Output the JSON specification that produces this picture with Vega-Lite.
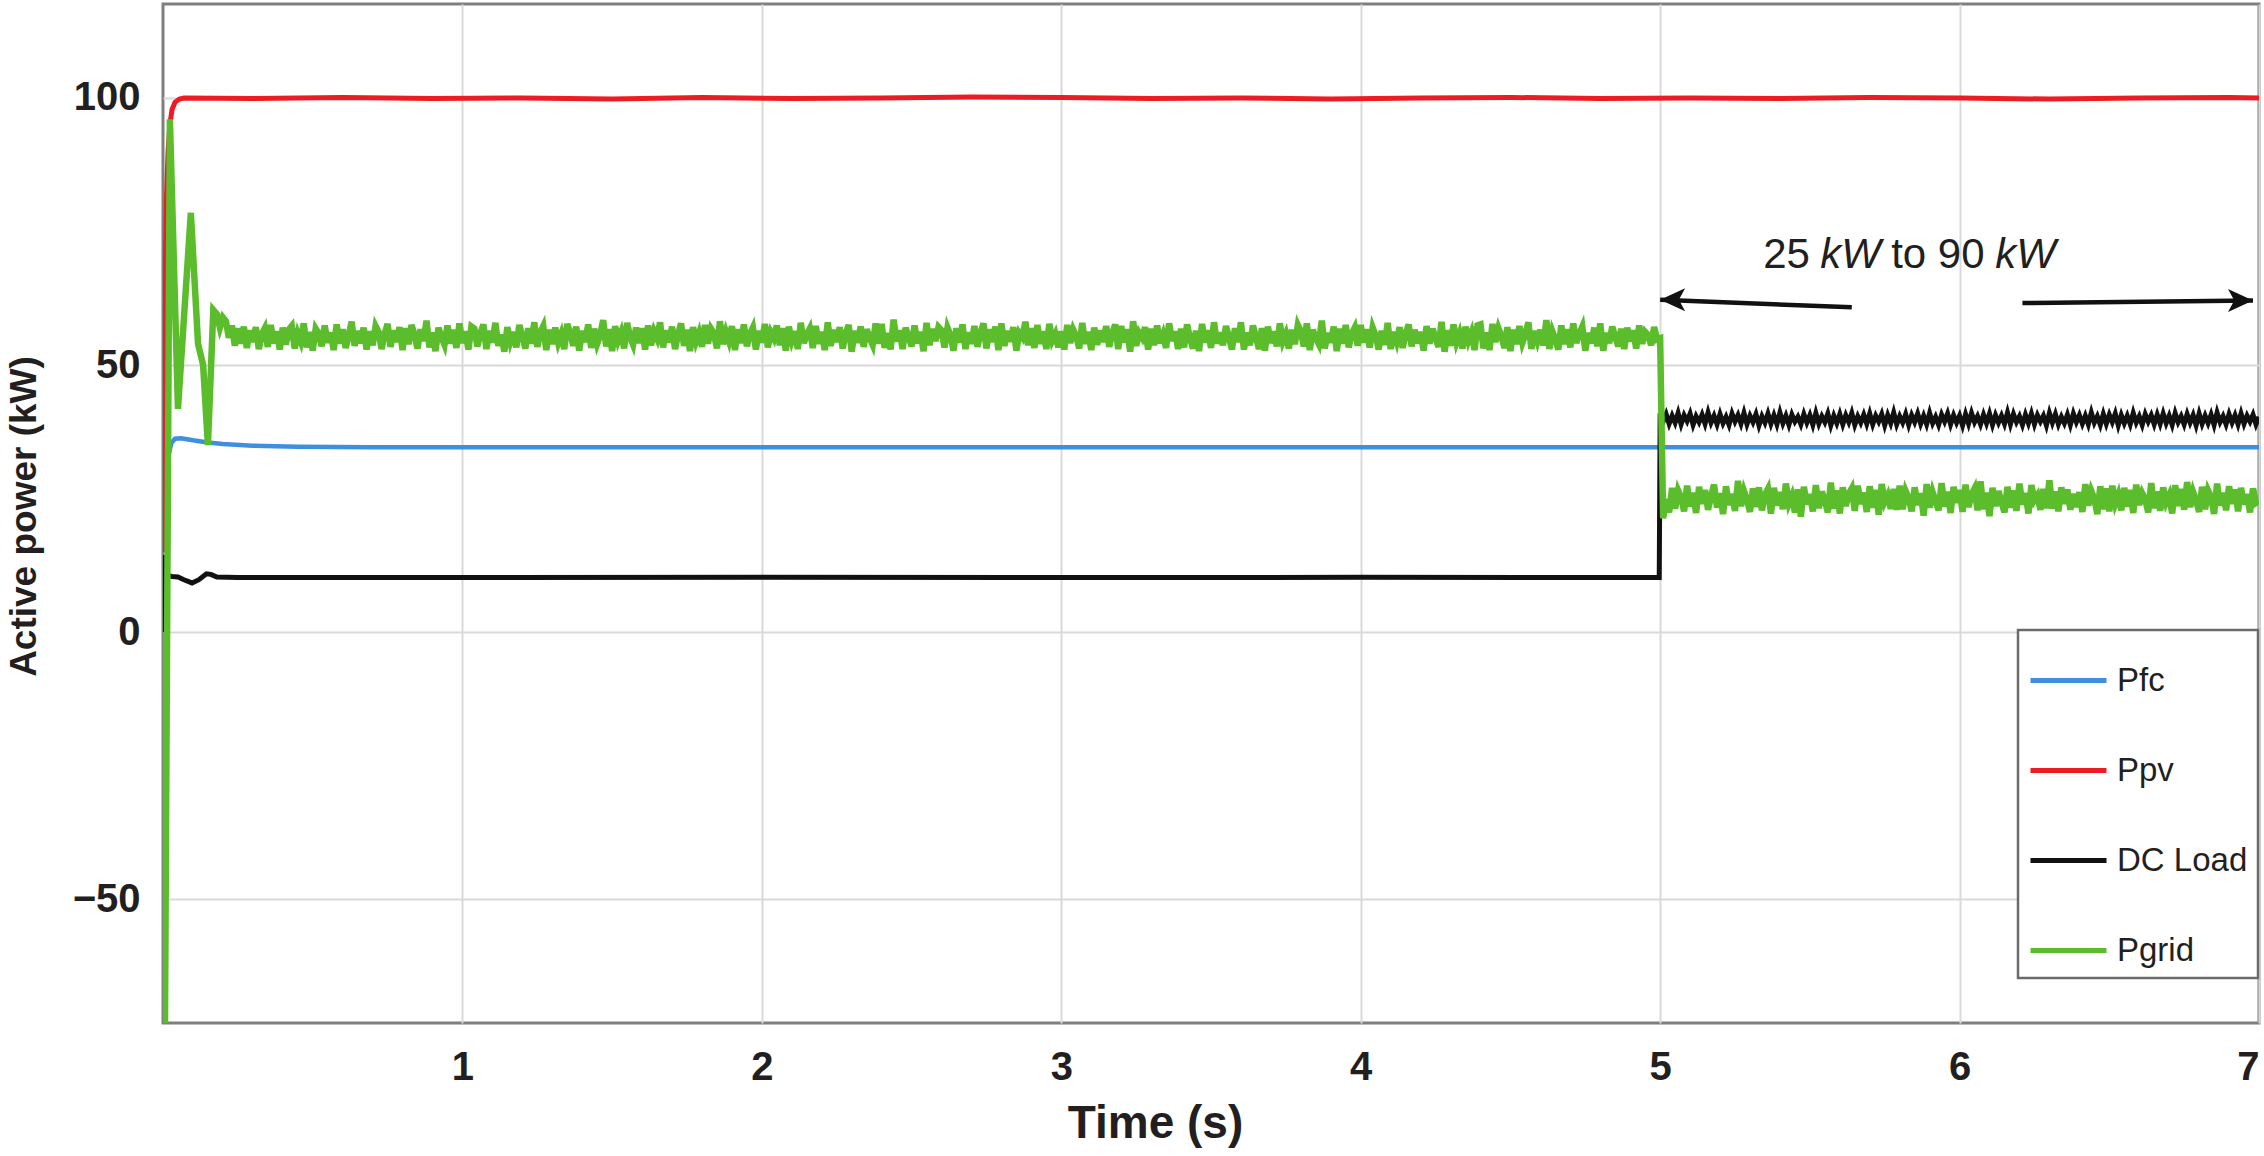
{
"$schema":"https://vega.github.io/schema/vega-lite/v6.json",
"width":2096,"height":1019,
"autosize":{"type":"none"},
"padding":{"left":163,"top":4,"right":5,"bottom":133},
"background":"white",
"config":{"view":{"stroke":"#7f7f7f","strokeWidth":3},"font":"Liberation Sans","legend":{"strokeColor":"#6b6b6b","strokeWidth":2.5}},
"datasets":{
"pfc":[{"t":0.02,"v":33.5},{"t":0.028,"v":35.4},{"t":0.04,"v":36.2},{"t":0.06,"v":36.3},{"t":0.08,"v":36.1},{"t":0.1,"v":35.9},{"t":0.15,"v":35.5},{"t":0.2,"v":35.2},{"t":0.3,"v":34.9},{"t":0.45,"v":34.7},{"t":0.7,"v":34.6},{"t":7.0,"v":34.6}],
"ppv":[{"t":0,"v":15},{"t":0.004,"v":45},{"t":0.008,"v":68},{"t":0.012,"v":82},{"t":0.017,"v":90},{"t":0.023,"v":95},{"t":0.03,"v":97.8},{"t":0.04,"v":99.2},{"t":0.055,"v":99.8},{"t":0.07,"v":100},{"t":0.3,"v":99.9},{"t":0.6,"v":100.1},{"t":0.9,"v":99.9},{"t":1.2,"v":100},{"t":1.5,"v":99.8},{"t":1.8,"v":100.1},{"t":2.1,"v":99.9},{"t":2.4,"v":100},{"t":2.7,"v":100.2},{"t":3.0,"v":100.1},{"t":3.3,"v":99.9},{"t":3.6,"v":100},{"t":3.9,"v":99.8},{"t":4.2,"v":100},{"t":4.5,"v":100.1},{"t":4.8,"v":99.9},{"t":5.1,"v":100},{"t":5.4,"v":99.9},{"t":5.7,"v":100.1},{"t":6.0,"v":100},{"t":6.3,"v":99.8},{"t":6.6,"v":100},{"t":6.9,"v":100.1},{"t":7.0,"v":100}],
"dc":[{"t":0,"v":0},{"t":0.003,"v":14.4},{"t":0.008,"v":11.5},{"t":0.015,"v":10.6},{"t":0.03,"v":10.4},{"t":0.05,"v":10.3},{"t":0.07,"v":9.8},{"t":0.097,"v":9.2},{"t":0.12,"v":9.8},{"t":0.145,"v":10.9},{"t":0.16,"v":10.8},{"t":0.18,"v":10.3},{"t":0.25,"v":10.2},{"t":1,"v":10.2},{"t":2,"v":10.25},{"t":3,"v":10.2},{"t":4,"v":10.25},{"t":4.997,"v":10.2},{"t":5.0,"v":40.9},
{"t":5.01,"v":39.4},{"t":5.02,"v":40.8},{"t":5.03,"v":39.0},{"t":5.04,"v":40.5},{"t":5.05,"v":39.2},{"t":5.06,"v":41.0},{"t":5.07,"v":38.9},{"t":5.08,"v":40.6},{"t":5.09,"v":39.5},
{"t":5.10,"v":40.9},{"t":5.11,"v":38.8},{"t":5.12,"v":40.4},{"t":5.13,"v":39.3},{"t":5.14,"v":40.7},{"t":5.15,"v":39.0},{"t":5.16,"v":41.1},{"t":5.17,"v":39.2},{"t":5.18,"v":40.5},{"t":5.19,"v":38.9},
{"t":5.20,"v":40.8},{"t":5.21,"v":39.1},{"t":5.22,"v":40.3},{"t":5.23,"v":38.8},{"t":5.24,"v":40.9},{"t":5.25,"v":39.4},{"t":5.26,"v":40.6},{"t":5.27,"v":39.0},{"t":5.28,"v":41.0},{"t":5.29,"v":38.9},
{"t":5.30,"v":40.5},{"t":5.31,"v":39.3},{"t":5.32,"v":40.8},{"t":5.33,"v":38.7},{"t":5.34,"v":40.4},{"t":5.35,"v":39.2},{"t":5.36,"v":40.9},{"t":5.37,"v":39.0},{"t":5.38,"v":40.6},{"t":5.39,"v":38.9},
{"t":5.40,"v":41.1},{"t":5.41,"v":39.1},{"t":5.42,"v":40.5},{"t":5.43,"v":38.8},{"t":5.44,"v":40.7},{"t":5.45,"v":39.4},{"t":5.46,"v":40.3},{"t":5.47,"v":38.9},{"t":5.48,"v":40.8},{"t":5.49,"v":39.2},
{"t":5.50,"v":40.6},{"t":5.51,"v":38.8},{"t":5.52,"v":41.0},{"t":5.53,"v":39.0},{"t":5.54,"v":40.4},{"t":5.55,"v":39.3},{"t":5.56,"v":40.9},{"t":5.57,"v":38.7},{"t":5.58,"v":40.5},{"t":5.59,"v":39.1},
{"t":5.60,"v":40.8},{"t":5.61,"v":38.9},{"t":5.62,"v":40.6},{"t":5.63,"v":39.3},{"t":5.64,"v":41.0},{"t":5.65,"v":38.8},{"t":5.66,"v":40.4},{"t":5.67,"v":39.2},{"t":5.68,"v":40.7},{"t":5.69,"v":39.0},
{"t":5.70,"v":40.9},{"t":5.71,"v":38.9},{"t":5.72,"v":40.5},{"t":5.73,"v":39.4},{"t":5.74,"v":40.8},{"t":5.75,"v":38.7},{"t":5.76,"v":40.6},{"t":5.77,"v":39.1},{"t":5.78,"v":41.1},{"t":5.79,"v":38.9},
{"t":5.80,"v":40.4},{"t":5.81,"v":39.2},{"t":5.82,"v":40.8},{"t":5.83,"v":38.8},{"t":5.84,"v":40.6},{"t":5.85,"v":39.3},{"t":5.86,"v":40.9},{"t":5.87,"v":39.0},{"t":5.88,"v":40.5},{"t":5.89,"v":38.9},
{"t":5.90,"v":41.0},{"t":5.91,"v":39.1},{"t":5.92,"v":40.3},{"t":5.93,"v":38.8},{"t":5.94,"v":40.7},{"t":5.95,"v":39.4},{"t":5.96,"v":40.9},{"t":5.97,"v":38.9},{"t":5.98,"v":40.6},{"t":5.99,"v":39.2},
{"t":6.00,"v":40.5},{"t":6.01,"v":38.7},{"t":6.02,"v":40.8},{"t":6.03,"v":39.0},{"t":6.04,"v":41.0},{"t":6.05,"v":39.3},{"t":6.06,"v":40.4},{"t":6.07,"v":38.9},{"t":6.08,"v":40.7},{"t":6.09,"v":39.1},
{"t":6.10,"v":40.9},{"t":6.11,"v":38.8},{"t":6.12,"v":40.6},{"t":6.13,"v":39.2},{"t":6.14,"v":40.5},{"t":6.15,"v":39.0},{"t":6.16,"v":41.1},{"t":6.17,"v":38.9},{"t":6.18,"v":40.8},{"t":6.19,"v":39.3},
{"t":6.20,"v":40.4},{"t":6.21,"v":38.8},{"t":6.22,"v":40.7},{"t":6.23,"v":39.1},{"t":6.24,"v":40.9},{"t":6.25,"v":38.9},{"t":6.26,"v":40.6},{"t":6.27,"v":39.4},{"t":6.28,"v":40.5},{"t":6.29,"v":38.7},
{"t":6.30,"v":41.0},{"t":6.31,"v":39.2},{"t":6.32,"v":40.8},{"t":6.33,"v":38.9},{"t":6.34,"v":40.3},{"t":6.35,"v":39.1},{"t":6.36,"v":40.7},{"t":6.37,"v":38.8},{"t":6.38,"v":40.9},{"t":6.39,"v":39.3},
{"t":6.40,"v":40.6},{"t":6.41,"v":39.0},{"t":6.42,"v":40.5},{"t":6.43,"v":38.9},{"t":6.44,"v":41.1},{"t":6.45,"v":39.2},{"t":6.46,"v":40.4},{"t":6.47,"v":38.8},{"t":6.48,"v":40.8},{"t":6.49,"v":39.0},
{"t":6.50,"v":40.7},{"t":6.51,"v":39.3},{"t":6.52,"v":40.9},{"t":6.53,"v":38.7},{"t":6.54,"v":40.6},{"t":6.55,"v":39.1},{"t":6.56,"v":40.5},{"t":6.57,"v":38.9},{"t":6.58,"v":41.0},{"t":6.59,"v":39.2},
{"t":6.60,"v":40.4},{"t":6.61,"v":38.8},{"t":6.62,"v":40.8},{"t":6.63,"v":39.4},{"t":6.64,"v":40.6},{"t":6.65,"v":38.9},{"t":6.66,"v":40.7},{"t":6.67,"v":39.0},{"t":6.68,"v":40.9},{"t":6.69,"v":39.1},
{"t":6.70,"v":40.5},{"t":6.71,"v":38.8},{"t":6.72,"v":41.0},{"t":6.73,"v":39.3},{"t":6.74,"v":40.4},{"t":6.75,"v":38.9},{"t":6.76,"v":40.8},{"t":6.77,"v":39.2},{"t":6.78,"v":40.6},{"t":6.79,"v":38.7},
{"t":6.80,"v":40.9},{"t":6.81,"v":39.0},{"t":6.82,"v":40.5},{"t":6.83,"v":39.1},{"t":6.84,"v":40.7},{"t":6.85,"v":38.8},{"t":6.86,"v":41.1},{"t":6.87,"v":39.3},{"t":6.88,"v":40.4},{"t":6.89,"v":38.9},
{"t":6.90,"v":40.8},{"t":6.91,"v":39.2},{"t":6.92,"v":40.6},{"t":6.93,"v":38.9},{"t":6.94,"v":40.9},{"t":6.95,"v":39.0},{"t":6.96,"v":40.5},{"t":6.97,"v":39.4},{"t":6.98,"v":40.7},{"t":6.99,"v":38.9},
{"t":7.00,"v":40.3}],
"grid":[{"t":0,"v":0},{"t":0.006,"v":-80},{"t":0.023,"v":96},{"t":0.05,"v":41.8},{"t":0.093,"v":78.5},{"t":0.117,"v":54},{"t":0.134,"v":50},{"t":0.15,"v":35},{"t":0.168,"v":60.3},{"t":0.18,"v":59.5},{"t":0.19,"v":57},
{"t":0.20,"v":58.9},{"t":0.21,"v":58.2},{"t":0.22,"v":55.1},{"t":0.23,"v":57.4},{"t":0.24,"v":53.6},{"t":0.25,"v":56.9},{"t":0.26,"v":54.0},{"t":0.27,"v":57.2},{"t":0.28,"v":53.2},{"t":0.29,"v":56.5},
{"t":0.30,"v":54.3},{"t":0.31,"v":57.1},{"t":0.32,"v":53.0},{"t":0.33,"v":55.8},{"t":0.34,"v":56.9},{"t":0.35,"v":53.4},{"t":0.36,"v":57.5},{"t":0.37,"v":54.1},{"t":0.38,"v":56.3},{"t":0.39,"v":52.9},
{"t":0.40,"v":57.0},{"t":0.41,"v":53.8},{"t":0.42,"v":56.6},{"t":0.43,"v":57.3},{"t":0.44,"v":53.1},{"t":0.45,"v":55.9},{"t":0.46,"v":54.4},{"t":0.47,"v":57.8},{"t":0.48,"v":53.3},{"t":0.49,"v":56.2},
{"t":0.50,"v":52.7},{"t":0.51,"v":56.8},{"t":0.52,"v":55.9},{"t":0.53,"v":53.5},{"t":0.54,"v":57.4},{"t":0.55,"v":54.2},{"t":0.56,"v":56.1},{"t":0.57,"v":52.8},{"t":0.58,"v":57.6},{"t":0.59,"v":54.0},
{"t":0.60,"v":56.7},{"t":0.61,"v":53.2},{"t":0.62,"v":55.5},{"t":0.63,"v":58.1},{"t":0.64,"v":53.6},{"t":0.65,"v":56.4},{"t":0.66,"v":54.1},{"t":0.67,"v":57.0},{"t":0.68,"v":52.9},{"t":0.69,"v":56.3},
{"t":0.70,"v":53.7},{"t":0.71,"v":57.3},{"t":0.72,"v":56.2},{"t":0.73,"v":53.0},{"t":0.74,"v":55.8},{"t":0.75,"v":57.7},{"t":0.76,"v":53.4},{"t":0.77,"v":56.5},{"t":0.78,"v":54.3},{"t":0.79,"v":57.1},
{"t":0.80,"v":52.8},{"t":0.81,"v":56.9},{"t":0.82,"v":53.9},{"t":0.83,"v":57.5},{"t":0.84,"v":55.6},{"t":0.85,"v":53.1},{"t":0.86,"v":56.7},{"t":0.87,"v":54.5},{"t":0.88,"v":58.3},{"t":0.89,"v":53.3},
{"t":0.90,"v":56.1},{"t":0.91,"v":52.6},{"t":0.92,"v":57.0},{"t":0.93,"v":55.2},{"t":0.94,"v":53.8},{"t":0.95,"v":57.4},{"t":0.96,"v":54.0},{"t":0.97,"v":56.6},{"t":0.98,"v":53.2},{"t":0.99,"v":57.8},
{"t":1.00,"v":54.1},{"t":1.01,"v":56.3},{"t":1.02,"v":52.9},{"t":1.03,"v":57.2},{"t":1.04,"v":56.8},{"t":1.05,"v":53.5},{"t":1.06,"v":55.9},{"t":1.07,"v":57.6},{"t":1.08,"v":53.0},{"t":1.09,"v":56.4},
{"t":1.10,"v":54.2},{"t":1.11,"v":57.9},{"t":1.12,"v":53.6},{"t":1.13,"v":55.7},{"t":1.14,"v":52.5},{"t":1.15,"v":57.1},{"t":1.16,"v":54.4},{"t":1.17,"v":56.2},{"t":1.18,"v":53.3},{"t":1.19,"v":57.5},
{"t":1.20,"v":55.4},{"t":1.21,"v":53.1},{"t":1.22,"v":56.9},{"t":1.23,"v":54.0},{"t":1.24,"v":58.0},{"t":1.25,"v":53.4},{"t":1.26,"v":56.1},{"t":1.27,"v":57.3},{"t":1.28,"v":52.8},{"t":1.29,"v":56.6},
{"t":1.30,"v":53.9},{"t":1.31,"v":57.0},{"t":1.32,"v":54.2},{"t":1.33,"v":55.8},{"t":1.34,"v":53.0},{"t":1.35,"v":57.7},{"t":1.36,"v":56.0},{"t":1.37,"v":53.6},{"t":1.38,"v":57.2},{"t":1.39,"v":52.7},
{"t":1.40,"v":56.4},{"t":1.41,"v":54.3},{"t":1.42,"v":57.6},{"t":1.43,"v":53.2},{"t":1.44,"v":56.8},{"t":1.45,"v":54.0},{"t":1.46,"v":55.6},{"t":1.47,"v":58.4},{"t":1.48,"v":53.5},{"t":1.49,"v":56.7},
{"t":1.50,"v":52.6},{"t":1.51,"v":57.3},{"t":1.52,"v":54.6},{"t":1.53,"v":56.1},{"t":1.54,"v":53.1},{"t":1.55,"v":57.9},{"t":1.56,"v":55.2},{"t":1.57,"v":53.8},{"t":1.58,"v":57.0},{"t":1.59,"v":54.1},
{"t":1.60,"v":56.9},{"t":1.61,"v":52.9},{"t":1.62,"v":57.4},{"t":1.63,"v":53.7},{"t":1.64,"v":56.3},{"t":1.65,"v":55.0},{"t":1.66,"v":58.0},{"t":1.67,"v":53.3},{"t":1.68,"v":56.5},{"t":1.69,"v":54.2},
{"t":1.70,"v":57.2},{"t":1.71,"v":53.0},{"t":1.72,"v":55.7},{"t":1.73,"v":57.8},{"t":1.74,"v":53.6},{"t":1.75,"v":56.6},{"t":1.76,"v":52.6},{"t":1.77,"v":57.1},{"t":1.78,"v":54.4},{"t":1.79,"v":56.0},
{"t":1.80,"v":53.4},{"t":1.81,"v":57.5},{"t":1.82,"v":54.0},{"t":1.83,"v":56.8},{"t":1.84,"v":55.9},{"t":1.85,"v":53.1},{"t":1.86,"v":58.2},{"t":1.87,"v":53.9},{"t":1.88,"v":56.2},{"t":1.89,"v":54.5},
{"t":1.90,"v":57.3},{"t":1.91,"v":52.8},{"t":1.92,"v":56.7},{"t":1.93,"v":54.1},{"t":1.94,"v":57.6},{"t":1.95,"v":53.5},{"t":1.96,"v":55.8},{"t":1.97,"v":57.0},{"t":1.98,"v":52.9},{"t":1.99,"v":56.4},
{"t":2.00,"v":54.2},{"t":2.01,"v":57.7},{"t":2.02,"v":53.3},{"t":2.03,"v":56.1},{"t":2.04,"v":55.0},{"t":2.05,"v":57.4},{"t":2.06,"v":53.7},{"t":2.07,"v":56.9},{"t":2.08,"v":52.7},{"t":2.09,"v":57.2},
{"t":2.10,"v":54.6},{"t":2.11,"v":56.3},{"t":2.12,"v":53.0},{"t":2.13,"v":57.9},{"t":2.14,"v":54.1},{"t":2.15,"v":55.7},{"t":2.16,"v":56.8},{"t":2.17,"v":53.2},{"t":2.18,"v":57.3},{"t":2.19,"v":54.0},
{"t":2.20,"v":56.2},{"t":2.21,"v":52.8},{"t":2.22,"v":58.0},{"t":2.23,"v":53.6},{"t":2.24,"v":56.6},{"t":2.25,"v":54.3},{"t":2.26,"v":57.1},{"t":2.27,"v":53.1},{"t":2.28,"v":55.9},{"t":2.29,"v":57.5},
{"t":2.30,"v":52.5},{"t":2.31,"v":56.4},{"t":2.32,"v":54.2},{"t":2.33,"v":57.2},{"t":2.34,"v":53.4},{"t":2.35,"v":56.7},{"t":2.36,"v":55.1},{"t":2.37,"v":53.8},{"t":2.38,"v":57.8},{"t":2.39,"v":54.0},
{"t":2.40,"v":57.7},{"t":2.41,"v":53.2},{"t":2.42,"v":56.0},{"t":2.43,"v":52.9},{"t":2.44,"v":58.5},{"t":2.45,"v":54.4},{"t":2.46,"v":56.5},{"t":2.47,"v":53.0},{"t":2.48,"v":57.0},{"t":2.49,"v":55.3},
{"t":2.50,"v":53.5},{"t":2.51,"v":57.4},{"t":2.52,"v":54.1},{"t":2.53,"v":56.2},{"t":2.54,"v":52.6},{"t":2.55,"v":57.9},{"t":2.56,"v":53.7},{"t":2.57,"v":56.8},{"t":2.58,"v":54.5},{"t":2.59,"v":57.1},
{"t":2.60,"v":56.5},{"t":2.61,"v":53.3},{"t":2.62,"v":57.0},{"t":2.63,"v":55.6},{"t":2.64,"v":52.7},{"t":2.65,"v":56.9},{"t":2.66,"v":54.2},{"t":2.67,"v":57.6},{"t":2.68,"v":53.0},{"t":2.69,"v":56.1},
{"t":2.70,"v":54.0},{"t":2.71,"v":57.3},{"t":2.72,"v":53.4},{"t":2.73,"v":55.9},{"t":2.74,"v":57.8},{"t":2.75,"v":53.1},{"t":2.76,"v":56.7},{"t":2.77,"v":54.3},{"t":2.78,"v":57.2},{"t":2.79,"v":52.8},
{"t":2.80,"v":57.8},{"t":2.81,"v":53.6},{"t":2.82,"v":56.4},{"t":2.83,"v":54.4},{"t":2.84,"v":57.1},{"t":2.85,"v":52.7},{"t":2.86,"v":56.0},{"t":2.87,"v":55.2},{"t":2.88,"v":58.1},{"t":2.89,"v":53.7},
{"t":2.90,"v":56.9},{"t":2.91,"v":53.2},{"t":2.92,"v":57.5},{"t":2.93,"v":54.0},{"t":2.94,"v":56.3},{"t":2.95,"v":53.0},{"t":2.96,"v":57.7},{"t":2.97,"v":54.6},{"t":2.98,"v":55.8},{"t":2.99,"v":53.3},
{"t":3.00,"v":56.3},{"t":3.01,"v":52.9},{"t":3.02,"v":57.5},{"t":3.03,"v":54.1},{"t":3.04,"v":56.6},{"t":3.05,"v":55.4},{"t":3.06,"v":53.1},{"t":3.07,"v":57.9},{"t":3.08,"v":54.0},{"t":3.09,"v":56.2},
{"t":3.10,"v":52.8},{"t":3.11,"v":57.0},{"t":3.12,"v":53.8},{"t":3.13,"v":56.5},{"t":3.14,"v":54.3},{"t":3.15,"v":57.3},{"t":3.16,"v":53.4},{"t":3.17,"v":55.9},{"t":3.18,"v":57.6},{"t":3.19,"v":53.0},
{"t":3.20,"v":57.3},{"t":3.21,"v":54.2},{"t":3.22,"v":56.7},{"t":3.23,"v":52.5},{"t":3.24,"v":58.2},{"t":3.25,"v":53.6},{"t":3.26,"v":56.0},{"t":3.27,"v":55.1},{"t":3.28,"v":57.1},{"t":3.29,"v":52.9},
{"t":3.30,"v":56.8},{"t":3.31,"v":53.7},{"t":3.32,"v":57.4},{"t":3.33,"v":54.1},{"t":3.34,"v":55.7},{"t":3.35,"v":53.2},{"t":3.36,"v":57.8},{"t":3.37,"v":54.5},{"t":3.38,"v":56.3},{"t":3.39,"v":53.0},
{"t":3.40,"v":56.8},{"t":3.41,"v":53.3},{"t":3.42,"v":57.6},{"t":3.43,"v":55.0},{"t":3.44,"v":53.1},{"t":3.45,"v":56.4},{"t":3.46,"v":52.6},{"t":3.47,"v":57.7},{"t":3.48,"v":54.2},{"t":3.49,"v":56.5},
{"t":3.50,"v":53.2},{"t":3.51,"v":58.0},{"t":3.52,"v":54.0},{"t":3.53,"v":56.1},{"t":3.54,"v":53.7},{"t":3.55,"v":57.3},{"t":3.56,"v":55.2},{"t":3.57,"v":52.9},{"t":3.58,"v":56.9},{"t":3.59,"v":54.3},
{"t":3.60,"v":58.0},{"t":3.61,"v":52.9},{"t":3.62,"v":56.1},{"t":3.63,"v":53.7},{"t":3.64,"v":57.4},{"t":3.65,"v":55.3},{"t":3.66,"v":53.0},{"t":3.67,"v":56.9},{"t":3.68,"v":52.7},{"t":3.69,"v":57.2},
{"t":3.70,"v":54.1},{"t":3.71,"v":56.3},{"t":3.72,"v":53.5},{"t":3.73,"v":57.8},{"t":3.74,"v":54.4},{"t":3.75,"v":55.8},{"t":3.76,"v":53.1},{"t":3.77,"v":56.6},{"t":3.78,"v":53.9},{"t":3.79,"v":57.5},
{"t":3.80,"v":56.3},{"t":3.81,"v":53.5},{"t":3.82,"v":57.8},{"t":3.83,"v":52.8},{"t":3.84,"v":56.6},{"t":3.85,"v":55.0},{"t":3.86,"v":53.9},{"t":3.87,"v":58.3},{"t":3.88,"v":53.1},{"t":3.89,"v":56.0},
{"t":3.90,"v":54.2},{"t":3.91,"v":57.2},{"t":3.92,"v":52.6},{"t":3.93,"v":56.8},{"t":3.94,"v":54.0},{"t":3.95,"v":57.5},{"t":3.96,"v":53.3},{"t":3.97,"v":55.9},{"t":3.98,"v":57.0},{"t":3.99,"v":53.6},
{"t":4.00,"v":57.5},{"t":4.01,"v":54.2},{"t":4.02,"v":56.7},{"t":4.03,"v":53.3},{"t":4.04,"v":57.0},{"t":4.05,"v":55.5},{"t":4.06,"v":52.9},{"t":4.07,"v":56.4},{"t":4.08,"v":53.8},{"t":4.09,"v":57.9},
{"t":4.10,"v":53.0},{"t":4.11,"v":56.2},{"t":4.12,"v":54.4},{"t":4.13,"v":57.1},{"t":4.14,"v":53.2},{"t":4.15,"v":55.8},{"t":4.16,"v":57.6},{"t":4.17,"v":53.5},{"t":4.18,"v":56.6},{"t":4.19,"v":54.1},
{"t":4.20,"v":56.2},{"t":4.21,"v":52.7},{"t":4.22,"v":57.3},{"t":4.23,"v":54.0},{"t":4.24,"v":56.8},{"t":4.25,"v":55.0},{"t":4.26,"v":53.4},{"t":4.27,"v":58.1},{"t":4.28,"v":52.5},{"t":4.29,"v":56.5},
{"t":4.30,"v":53.6},{"t":4.31,"v":57.6},{"t":4.32,"v":54.3},{"t":4.33,"v":55.9},{"t":4.34,"v":53.1},{"t":4.35,"v":57.2},{"t":4.36,"v":54.6},{"t":4.37,"v":56.1},{"t":4.38,"v":52.8},{"t":4.39,"v":57.4},
{"t":4.40,"v":57.6},{"t":4.41,"v":53.1},{"t":4.42,"v":56.1},{"t":4.43,"v":52.8},{"t":4.44,"v":57.7},{"t":4.45,"v":54.3},{"t":4.46,"v":56.9},{"t":4.47,"v":55.4},{"t":4.48,"v":53.2},{"t":4.49,"v":57.1},
{"t":4.50,"v":52.6},{"t":4.51,"v":56.6},{"t":4.52,"v":53.9},{"t":4.53,"v":57.3},{"t":4.54,"v":54.2},{"t":4.55,"v":55.8},{"t":4.56,"v":58.0},{"t":4.57,"v":53.0},{"t":4.58,"v":56.4},{"t":4.59,"v":54.5},
{"t":4.60,"v":56.6},{"t":4.61,"v":53.7},{"t":4.62,"v":58.4},{"t":4.63,"v":53.0},{"t":4.64,"v":56.3},{"t":4.65,"v":54.8},{"t":4.66,"v":52.9},{"t":4.67,"v":57.4},{"t":4.68,"v":53.9},{"t":4.69,"v":56.7},
{"t":4.70,"v":53.3},{"t":4.71,"v":57.8},{"t":4.72,"v":54.1},{"t":4.73,"v":55.9},{"t":4.74,"v":57.2},{"t":4.75,"v":52.7},{"t":4.76,"v":56.0},{"t":4.77,"v":54.1},{"t":4.78,"v":57.0},{"t":4.79,"v":53.5},
{"t":4.80,"v":57.8},{"t":4.81,"v":52.7},{"t":4.82,"v":56.0},{"t":4.83,"v":54.1},{"t":4.84,"v":57.2},{"t":4.85,"v":55.3},{"t":4.86,"v":53.5},{"t":4.87,"v":56.8},{"t":4.88,"v":53.0},{"t":4.89,"v":57.0},
{"t":4.90,"v":54.4},{"t":4.91,"v":56.5},{"t":4.92,"v":53.1},{"t":4.93,"v":57.4},{"t":4.94,"v":54.0},{"t":4.95,"v":56.2},{"t":4.96,"v":55.6},{"t":4.97,"v":53.7},{"t":4.98,"v":57.1},{"t":4.99,"v":54.8},
{"t":5.00,"v":55.0},{"t":5.01,"v":21.3},
{"t":5.02,"v":24.9},{"t":5.03,"v":22.4},{"t":5.04,"v":27.0},{"t":5.05,"v":23.1},{"t":5.06,"v":26.5},{"t":5.07,"v":25.2},{"t":5.08,"v":22.6},{"t":5.09,"v":27.4},
{"t":5.10,"v":23.5},{"t":5.11,"v":26.1},{"t":5.12,"v":22.3},{"t":5.13,"v":27.2},{"t":5.14,"v":24.0},{"t":5.15,"v":26.6},{"t":5.16,"v":22.9},{"t":5.17,"v":25.4},{"t":5.18,"v":27.6},{"t":5.19,"v":23.3},
{"t":5.20,"v":26.0},{"t":5.21,"v":22.1},{"t":5.22,"v":27.3},{"t":5.23,"v":23.8},{"t":5.24,"v":25.9},{"t":5.25,"v":22.7},{"t":5.26,"v":28.3},{"t":5.27,"v":23.6},{"t":5.28,"v":26.4},{"t":5.29,"v":24.8},
{"t":5.30,"v":22.5},{"t":5.31,"v":26.9},{"t":5.32,"v":23.4},{"t":5.33,"v":27.1},{"t":5.34,"v":22.8},{"t":5.35,"v":25.7},{"t":5.36,"v":26.8},{"t":5.37,"v":22.2},{"t":5.38,"v":27.0},{"t":5.39,"v":23.7},
{"t":5.40,"v":26.2},{"t":5.41,"v":23.0},{"t":5.42,"v":27.8},{"t":5.43,"v":24.1},{"t":5.44,"v":25.5},{"t":5.45,"v":22.4},{"t":5.46,"v":26.7},{"t":5.47,"v":21.6},{"t":5.48,"v":27.2},{"t":5.49,"v":23.9},
{"t":5.50,"v":25.8},{"t":5.51,"v":22.6},{"t":5.52,"v":27.5},{"t":5.53,"v":23.2},{"t":5.54,"v":26.3},{"t":5.55,"v":24.6},{"t":5.56,"v":22.4},{"t":5.57,"v":28.0},{"t":5.58,"v":23.1},{"t":5.59,"v":26.5},
{"t":5.60,"v":22.2},{"t":5.61,"v":27.1},{"t":5.62,"v":23.6},{"t":5.63,"v":25.9},{"t":5.64,"v":26.9},{"t":5.65,"v":22.7},{"t":5.66,"v":27.4},{"t":5.67,"v":24.0},{"t":5.68,"v":26.1},{"t":5.69,"v":22.5},
{"t":5.70,"v":27.3},{"t":5.71,"v":23.3},{"t":5.72,"v":26.6},{"t":5.73,"v":22.0},{"t":5.74,"v":27.7},{"t":5.75,"v":24.4},{"t":5.76,"v":25.6},{"t":5.77,"v":23.1},{"t":5.78,"v":26.8},{"t":5.79,"v":22.9},
{"t":5.80,"v":27.4},{"t":5.81,"v":23.0},{"t":5.82,"v":26.4},{"t":5.83,"v":25.1},{"t":5.84,"v":22.6},{"t":5.85,"v":27.1},{"t":5.86,"v":23.8},{"t":5.87,"v":26.0},{"t":5.88,"v":21.8},{"t":5.89,"v":27.7},
{"t":5.90,"v":23.3},{"t":5.91,"v":26.2},{"t":5.92,"v":24.5},{"t":5.93,"v":22.8},{"t":5.94,"v":27.9},{"t":5.95,"v":23.5},{"t":5.96,"v":26.3},{"t":5.97,"v":22.3},{"t":5.98,"v":27.2},{"t":5.99,"v":24.2},
{"t":6.00,"v":26.6},{"t":6.01,"v":22.5},{"t":6.02,"v":27.6},{"t":6.03,"v":23.4},{"t":6.04,"v":25.8},{"t":6.05,"v":26.9},{"t":6.06,"v":22.8},{"t":6.07,"v":28.2},{"t":6.08,"v":23.0},{"t":6.09,"v":26.1},
{"t":6.10,"v":21.7},{"t":6.11,"v":27.0},{"t":6.12,"v":23.6},{"t":6.13,"v":26.4},{"t":6.14,"v":24.3},{"t":6.15,"v":22.4},{"t":6.16,"v":27.2},{"t":6.17,"v":23.3},{"t":6.18,"v":26.5},{"t":6.19,"v":22.7},
{"t":6.20,"v":27.8},{"t":6.21,"v":23.9},{"t":6.22,"v":26.0},{"t":6.23,"v":22.2},{"t":6.24,"v":27.5},{"t":6.25,"v":24.7},{"t":6.26,"v":25.6},{"t":6.27,"v":22.9},{"t":6.28,"v":26.8},{"t":6.29,"v":23.2},
{"t":6.30,"v":28.4},{"t":6.31,"v":23.1},{"t":6.32,"v":26.3},{"t":6.33,"v":22.6},{"t":6.34,"v":27.1},{"t":6.35,"v":24.0},{"t":6.36,"v":26.7},{"t":6.37,"v":22.9},{"t":6.38,"v":25.9},{"t":6.39,"v":23.4},
{"t":6.40,"v":26.2},{"t":6.41,"v":22.5},{"t":6.42,"v":27.7},{"t":6.43,"v":23.7},{"t":6.44,"v":26.4},{"t":6.45,"v":25.0},{"t":6.46,"v":22.1},{"t":6.47,"v":27.3},{"t":6.48,"v":23.0},{"t":6.49,"v":26.9},
{"t":6.50,"v":22.6},{"t":6.51,"v":27.4},{"t":6.52,"v":24.1},{"t":6.53,"v":25.7},{"t":6.54,"v":22.8},{"t":6.55,"v":27.0},{"t":6.56,"v":23.5},{"t":6.57,"v":26.6},{"t":6.58,"v":22.3},{"t":6.59,"v":27.6},
{"t":6.60,"v":23.8},{"t":6.61,"v":26.0},{"t":6.62,"v":24.9},{"t":6.63,"v":22.4},{"t":6.64,"v":27.9},{"t":6.65,"v":23.2},{"t":6.66,"v":26.3},{"t":6.67,"v":22.7},{"t":6.68,"v":27.1},{"t":6.69,"v":24.3},
{"t":6.70,"v":25.6},{"t":6.71,"v":22.2},{"t":6.72,"v":27.5},{"t":6.73,"v":23.6},{"t":6.74,"v":26.8},{"t":6.75,"v":22.9},{"t":6.76,"v":28.1},{"t":6.77,"v":23.4},{"t":6.78,"v":26.2},{"t":6.79,"v":24.6},
{"t":6.80,"v":22.5},{"t":6.81,"v":27.2},{"t":6.82,"v":23.0},{"t":6.83,"v":26.5},{"t":6.84,"v":25.3},{"t":6.85,"v":22.1},{"t":6.86,"v":27.8},{"t":6.87,"v":23.7},{"t":6.88,"v":26.1},{"t":6.89,"v":22.8},
{"t":6.90,"v":27.3},{"t":6.91,"v":24.0},{"t":6.92,"v":26.7},{"t":6.93,"v":22.6},{"t":6.94,"v":27.0},{"t":6.95,"v":23.9},{"t":6.96,"v":25.8},{"t":6.97,"v":22.4},{"t":6.98,"v":26.9},{"t":6.99,"v":24.2},
{"t":7.00,"v":24.6}]
},
"encoding":{
"x":{"field":"t","type":"quantitative","scale":{"domain":[0,7],"nice":false,"zero":false},
"axis":{"values":[1,2,3,4,5,6,7],"title":"Time (s)","grid":true,"gridColor":"#d9d9d9","gridWidth":2,"domain":false,"ticks":false,"tickSize":0,
"labelFontSize":40,"labelFontWeight":"bold","labelColor":"#231f20","labelPadding":24,"labelFont":"Liberation Sans",
"titleFontSize":46,"titleFontWeight":"bold","titleColor":"#231f20","titleFont":"Liberation Sans","titleX":992,"titleY":100,"titleAlign":"center","titleBaseline":"middle"}},
"y":{"field":"v","type":"quantitative","scale":{"domain":[-73.2,117.6],"nice":false,"zero":false},
"axis":{"values":[-50,0,50,100],"title":"Active power (kW)","grid":true,"gridColor":"#d9d9d9","gridWidth":2,"domain":false,"ticks":false,"tickSize":0,
"labelFontSize":40,"labelFontWeight":"bold","labelColor":"#231f20","labelPadding":23,"labelFont":"Liberation Sans",
"titleFontSize":37,"titleFontWeight":"bold","titleColor":"#231f20","titleFont":"Liberation Sans","titleX":-139,"titleY":512,"titleAngle":270,"titleAlign":"center","titleBaseline":"middle"}}
},
"layer":[
{"data":{"name":"pfc"},"mark":{"type":"line","clip":true,"strokeWidth":4.5},
 "encoding":{"color":{"datum":"Pfc","type":"nominal",
  "scale":{"domain":["Pfc","Ppv","DC Load","Pgrid"],"range":["#3f8fdf","#ec1c24","#111111","#5bbd2b"]},
  "legend":{"orient":"none","legendX":1855,"legendY":626,"title":null,"fillColor":"white","padding":10,
   "symbolType":"stroke","symbolSize":5776,"symbolStrokeWidth":5,"labelFontSize":33,"labelFont":"Liberation Sans","labelColor":"#231f20","labelOffset":8,"rowPadding":32,"cornerRadius":0}}}},
{"data":{"name":"ppv"},"mark":{"type":"line","clip":true,"strokeWidth":5},"encoding":{"color":{"datum":"Ppv","type":"nominal"}}},
{"data":{"name":"dc"},"mark":{"type":"line","clip":true,"strokeWidth":5},"encoding":{"color":{"datum":"DC Load","type":"nominal"}}},
{"data":{"name":"grid"},"mark":{"type":"line","clip":true,"strokeWidth":6.5},"encoding":{"color":{"datum":"Pgrid","type":"nominal"}}},
{"data":{"values":[{"t":5.0,"t2":5.64,"v":62.2,"v2":60.8},{"t":6.21,"t2":6.98,"v":61.6,"v2":62.1}]},
 "mark":{"type":"rule","strokeWidth":4.5,"color":"#111111"},
 "encoding":{"x2":{"field":"t2"},"y2":{"field":"v2"}}},
{"data":{"values":[{"t":5.0,"v":62.2}]},
 "mark":{"type":"point","filled":true,"opacity":1,"color":"#111111","size":2500,"shape":"M0,0L1,-0.46L0.75,0L1,0.46Z"},"encoding":{}},
{"data":{"values":[{"t":6.98,"v":62.1}]},
 "mark":{"type":"point","filled":true,"opacity":1,"color":"#111111","size":2500,"shape":"M0,0L-1,-0.46L-0.75,0L-1,0.46Z"},"encoding":{}},
{"data":{"values":[{"t":5.344,"v":68.2}]},
 "layer":[
 {"mark":{"type":"text","text":"25","align":"left","baseline":"alphabetic","fontSize":42,"font":"Liberation Sans","color":"#231f20","dx":0}},
 {"mark":{"type":"text","text":"kW","align":"left","baseline":"alphabetic","fontSize":42,"font":"Liberation Sans","fontStyle":"italic","color":"#231f20","dx":57}},
 {"mark":{"type":"text","text":"to 90","align":"left","baseline":"alphabetic","fontSize":42,"font":"Liberation Sans","color":"#231f20","dx":128}},
 {"mark":{"type":"text","text":"kW","align":"left","baseline":"alphabetic","fontSize":42,"font":"Liberation Sans","fontStyle":"italic","color":"#231f20","dx":232}}
 ]}
]
}
